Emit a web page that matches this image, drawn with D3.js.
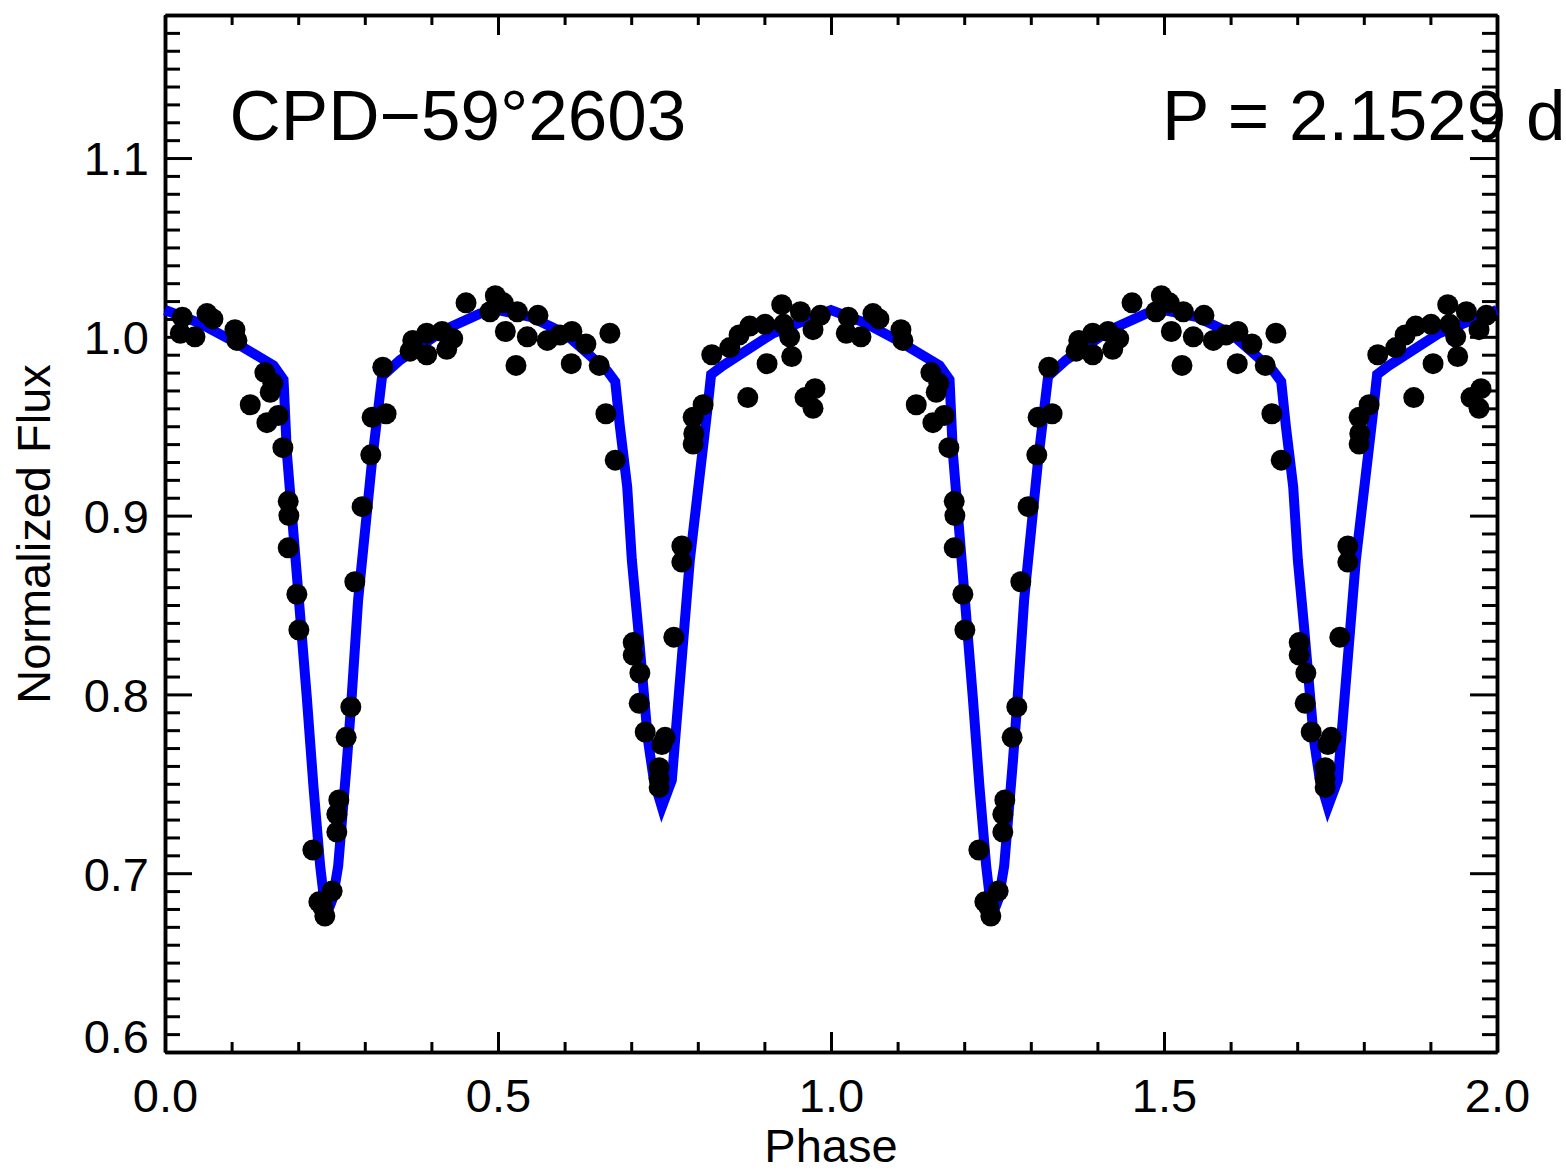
<!DOCTYPE html>
<html>
<head>
<meta charset="utf-8">
<script src="https://cdn.jsdelivr.net/npm/d3@7"></script>
<style>
  body { margin: 0; background: #fff; }
  text { font-family: "Liberation Sans", Arial, Helvetica, sans-serif; fill: #000; }
</style>
</head>
<body>
<script>
// observed points, one cycle (phase 0-1); the plot shows it twice
var obsPhase = [0.026,0.023,0.045,0.063,0.072,0.105,0.108,0.128,0.150,0.162,0.158,0.170,0.153,0.177,
  0.185,0.186,0.185,0.198,0.201,0.222,0.231,0.237,0.240,0.251,0.258,0.258,0.261,0.272,0.279,0.285,
  0.296,0.309,0.311,0.332,0.327,0.368,0.372,0.393,0.393,0.416,0.423,0.432,0.452,0.488,0.496,0.508,
  0.511,0.529,0.527,0.544,0.560,0.574,0.593,0.611,0.610,0.632,0.668,0.652,0.662,0.676,0.703,0.703,
  0.713,0.712,0.721,0.751,0.746,0.742,0.742,0.742,0.764,0.776,0.776,0.793,0.794,0.793,0.808,0.821,
  0.848,0.862,0.878,0.901,0.904,0.875,0.926,0.929,0.938,0.941,0.954,0.973,0.984,0.976,0.961,0.973];
var obsFlux = [1.011,1.002,1.000,1.013,1.010,1.004,0.998,0.962,0.980,0.974,0.969,0.956,0.952,0.938,
  0.908,0.900,0.882,0.856,0.836,0.713,0.684,0.681,0.676,0.690,0.723,0.733,0.741,0.776,0.793,0.863,
  0.905,0.934,0.955,0.957,0.983,0.992,0.998,1.002,0.990,1.003,0.993,0.999,1.019,1.014,1.023,1.019,
  1.003,1.014,0.984,1.000,1.012,0.998,1.001,1.003,0.985,0.996,1.002,0.984,0.957,0.931,0.829,0.822,
  0.812,0.795,0.779,0.776,0.772,0.759,0.753,0.748,0.832,0.883,0.874,0.940,0.946,0.955,0.962,0.990,
  0.994,1.001,1.006,1.007,0.985,0.966,1.018,1.007,1.000,0.989,1.014,1.004,1.012,0.971,0.966,0.960];

// model light curve vertices, one cycle
var modelPhase = [0.000,0.050,0.100,0.163,0.178,0.183,0.201,0.213,0.223,0.233,0.238,0.246,0.252,0.260,
  0.273,0.280,0.290,0.311,0.326,0.353,0.420,0.473,0.500,0.550,0.600,0.664,0.676,0.683,0.694,0.701,
  0.710,0.725,0.734,0.746,0.761,0.788,0.814,0.820,0.838,0.913,1.000];
var modelFlux = [1.015,1.008,0.998,0.984,0.976,0.935,0.853,0.798,0.748,0.704,0.688,0.680,0.686,0.704,
  0.762,0.797,0.853,0.931,0.978,0.987,1.004,1.013,1.015,1.011,1.002,0.981,0.975,0.950,0.916,0.875,
  0.839,0.775,0.752,0.737,0.752,0.875,0.958,0.979,0.984,1.002,1.015];

var xMajor = [0, 0.5, 1.0, 1.5, 2.0];
var yMajor = [0.6, 0.7, 0.8, 0.9, 1.0, 1.1];

var width = 1566, height = 1175;
var svg = d3.select("body").append("svg").attr("width", width).attr("height", height);

var x = d3.scaleLinear().domain([0, 2]).range([165, 1497]);
var y = d3.scaleLinear().domain([0.6, 1.18]).range([1052, 15]);

// two cycles
var points = [];
[0, 1].forEach(function(c) {
  obsPhase.forEach(function(p, i) { points.push([p + c, obsFlux[i]]); });
});
var model = [];
[0, 1].forEach(function(c) {
  modelPhase.forEach(function(p, i) {
    if (c == 1 && i == 0) return;
    model.push([p + c, modelFlux[i]]);
  });
});

var xMinor = d3.range(0, 21).map(function(i) { return i / 10; })
  .filter(function(v) { return Math.round(v * 10) % 5 != 0; });
var yMinor = d3.range(61, 118).map(function(i) { return i / 100; })
  .filter(function(v) { return Math.round(v * 100) % 10 != 0; });

function styleAxis(g) {
  g.select(".domain").attr("stroke", "#000").attr("stroke-width", 3.5);
  g.selectAll(".tick line").attr("stroke", "#000").attr("stroke-width", 3);
  g.selectAll(".tick text").attr("font-size", 47).attr("fill", "#000");
}

// bottom
svg.append("g").attr("transform", "translate(0,1052)")
  .call(d3.axisBottom(x).tickValues(xMinor).tickSize(-10).tickSizeOuter(0).tickFormat(""))
  .call(styleAxis);
svg.append("g").attr("transform", "translate(0,1052)")
  .call(d3.axisBottom(x).tickValues(xMajor).tickSize(-20).tickSizeOuter(0).tickPadding(27)
    .tickFormat(d3.format(".1f")))
  .call(styleAxis);
// top
svg.append("g").attr("transform", "translate(0,15)")
  .call(d3.axisTop(x).tickValues(xMinor).tickSize(-10).tickSizeOuter(0).tickFormat(""))
  .call(styleAxis);
svg.append("g").attr("transform", "translate(0,15)")
  .call(d3.axisTop(x).tickValues(xMajor).tickSize(-20).tickSizeOuter(0).tickFormat(""))
  .call(styleAxis);
// left
svg.append("g").attr("transform", "translate(165,0)")
  .call(d3.axisLeft(y).tickValues(yMinor).tickSize(-15).tickSizeOuter(0).tickFormat(""))
  .call(styleAxis);
var yl = svg.append("g").attr("transform", "translate(165,0)")
  .call(d3.axisLeft(y).tickValues(yMajor).tickSize(-27).tickSizeOuter(0).tickPadding(16)
    .tickFormat(d3.format(".1f")))
  .call(styleAxis);
yl.selectAll(".tick text").attr("dy", function(d) { return d == 0.6 ? "0em" : "0.36em"; });
// right
svg.append("g").attr("transform", "translate(1497,0)")
  .call(d3.axisRight(y).tickValues(yMinor).tickSize(-15).tickSizeOuter(0).tickFormat(""))
  .call(styleAxis);
svg.append("g").attr("transform", "translate(1497,0)")
  .call(d3.axisRight(y).tickValues(yMajor).tickSize(-27).tickSizeOuter(0).tickFormat(""))
  .call(styleAxis);

// model
var line = d3.line().x(function(d) { return x(d[0]); }).y(function(d) { return y(d[1]); });
svg.append("path").datum(model)
  .attr("d", line)
  .attr("fill", "none")
  .attr("stroke", "#0000ff")
  .attr("stroke-width", 10)
  .attr("stroke-linejoin", "miter")
  .attr("stroke-miterlimit", 6);

// data
svg.selectAll("circle.obs")
  .data(points)
  .enter().append("circle")
  .attr("class", "obs")
  .attr("cx", function(d) { return x(d[0]); })
  .attr("cy", function(d) { return y(d[1]); })
  .attr("r", 10.5)
  .attr("fill", "#000");

// labels
svg.append("text")
  .attr("x", x(0.1) - 2).attr("y", y(1.11))
  .attr("font-size", 71)
  .text("CPD\u221259\u00b02603");
svg.append("text")
  .attr("x", x(1.5) - 2).attr("y", y(1.11))
  .attr("font-size", 71)
  .text("P = 2.1529 d");

svg.append("text")
  .attr("x", 831).attr("y", 1162)
  .attr("text-anchor", "middle")
  .attr("font-size", 47)
  .text("Phase");
svg.append("text")
  .attr("transform", "translate(50,534) rotate(-90)")
  .attr("text-anchor", "middle")
  .attr("font-size", 47)
  .text("Normalized Flux");
</script>
</body>
</html>
